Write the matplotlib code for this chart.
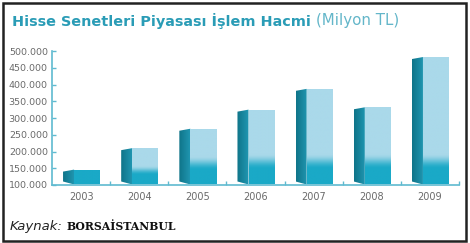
import numpy as np
import matplotlib
matplotlib.use("Agg")
import matplotlib.pyplot as plt
from matplotlib.patches import Polygon, Rectangle
from matplotlib.colors import to_rgb
from matplotlib.ticker import FuncFormatter, FixedLocator

# Hisse senetleri piyasasi islem hacmi (milyon TL)
years = ["2003", "2004", "2005", "2006", "2007", "2008", "2009"]
volume = [146000, 210000, 268000, 325000, 387000, 332000, 482000]
y_ticks = list(range(100000, 500001, 50000))

TITLE = "#2a9cb6"
TITLE_LIGHT = "#63b6c9"
AXIS = "#5fbad0"
TICKTXT = "#6a6a6a"
FRONT_TOP = "#aad9ea"
FRONT_BOT = "#1aa9c7"
SIDE_L = "#0f7489"
SIDE_R = "#2198b3"

fig = plt.figure(figsize=(4.7, 2.43), dpi=100)
ax = fig.add_axes([52 / 470, 1 - 185 / 243, 407 / 470, 134 / 243])

base = 100000
ax.set_xlim(-0.5, len(years) - 0.5)
ax.set_ylim(base, 500000)


def grad_img(ax, extent, c0, c1, t, horizontal, clip):
    a, b = np.array(to_rgb(c0)), np.array(to_rgb(c1))
    col = a[None, :] * (1 - t[:, None]) + b[None, :] * t[:, None]
    img = col[None, :, :] if horizontal else col[:, None, :]
    im = ax.imshow(img, extent=extent, origin="lower", aspect="auto",
                   interpolation="bilinear", zorder=2)
    im.set_clip_path(clip)


for i, v in enumerate(volume):
    xs0, xs1, xf1 = i - 0.31, i - 0.12, i + 0.33
    bot = base + 1500
    # side face (perspective, left)
    side = Polygon([(xs0, bot + 9000), (xs1, bot), (xs1, v), (xs0, v - 6000)],
                   closed=True, facecolor="none", edgecolor="none")
    ax.add_patch(side)
    t = np.linspace(0, 1, 32)
    grad_img(ax, [xs0, xs1, bot, v], SIDE_L, SIDE_R, t, True, side)
    # front face, light on top and teal near the base
    front = Polygon([(xs1, bot), (xf1, bot), (xf1, v), (xs1, v)],
                    closed=True, facecolor="none", edgecolor="none")
    ax.add_patch(front)
    yy = np.linspace(bot, v, 200)
    h = v - bot
    if h < 60000:
        lo, hi = v, v + 1
    else:
        lo, hi = bot + min(0.25 * h, 45000), bot + min(0.5 * h, 90000)
    tt = np.clip((yy - lo) / (hi - lo), 0, 1)
    tt = tt * tt * (3 - 2 * tt)
    grad_img(ax, [xs1, xf1, bot, v], FRONT_BOT, FRONT_TOP, tt, False, front)

ax.set_xticks(range(len(years)))
ax.set_xticklabels(years)
ax.xaxis.set_minor_locator(FixedLocator([i + 0.5 for i in range(len(years))]))
ax.set_yticks(y_ticks)
ax.yaxis.set_major_formatter(FuncFormatter(lambda v, p: f"{v:,.0f}".replace(",", ".")))
ax.tick_params(axis="x", which="major", length=0, pad=5, labelsize=7, labelcolor=TICKTXT)
ax.tick_params(axis="x", which="minor", length=3, direction="in", color=AXIS, width=1)
ax.tick_params(axis="y", length=3, direction="in", color=AXIS, width=1,
               labelsize=6.8, labelcolor=TICKTXT, pad=3)
for s in ("top", "right"):
    ax.spines[s].set_visible(False)
for s in ("left", "bottom"):
    ax.spines[s].set_color(AXIS)
    ax.spines[s].set_linewidth(1.2)
    ax.spines[s].set_zorder(3)

# title
t1 = fig.text(12 / 470, 1 - 21 / 243, "Hisse Senetleri Piyasası İşlem Hacmi",
              fontsize=10.4, fontweight="bold", color=TITLE, va="center")
fig.canvas.draw()
bb = t1.get_window_extent()
fig.text((bb.x1 + 5) / 470, 1 - 21 / 243, "(Milyon TL)", fontsize=10.8,
         color=TITLE_LIGHT, va="center")

# source
k = fig.text(10 / 470, 1 - 226 / 243, "Kaynak:", fontsize=9.5, style="italic",
             color="#222222", va="center")
fig.canvas.draw()
bk = k.get_window_extent()
fig.text((bk.x1 + 4) / 470, 1 - 226 / 243, "BORSAİSTANBUL", fontsize=7.8,
         family="DejaVu Serif", fontweight="bold", color="#111111", va="center")

# outer frame
fig.patches.append(Rectangle((3 / 470, 2 / 243), 463 / 470, 238 / 243,
                             transform=fig.transFigure, fill=False,
                             edgecolor="#222222", linewidth=1.8))

fig.savefig("out.png", dpi=100, facecolor="white")
